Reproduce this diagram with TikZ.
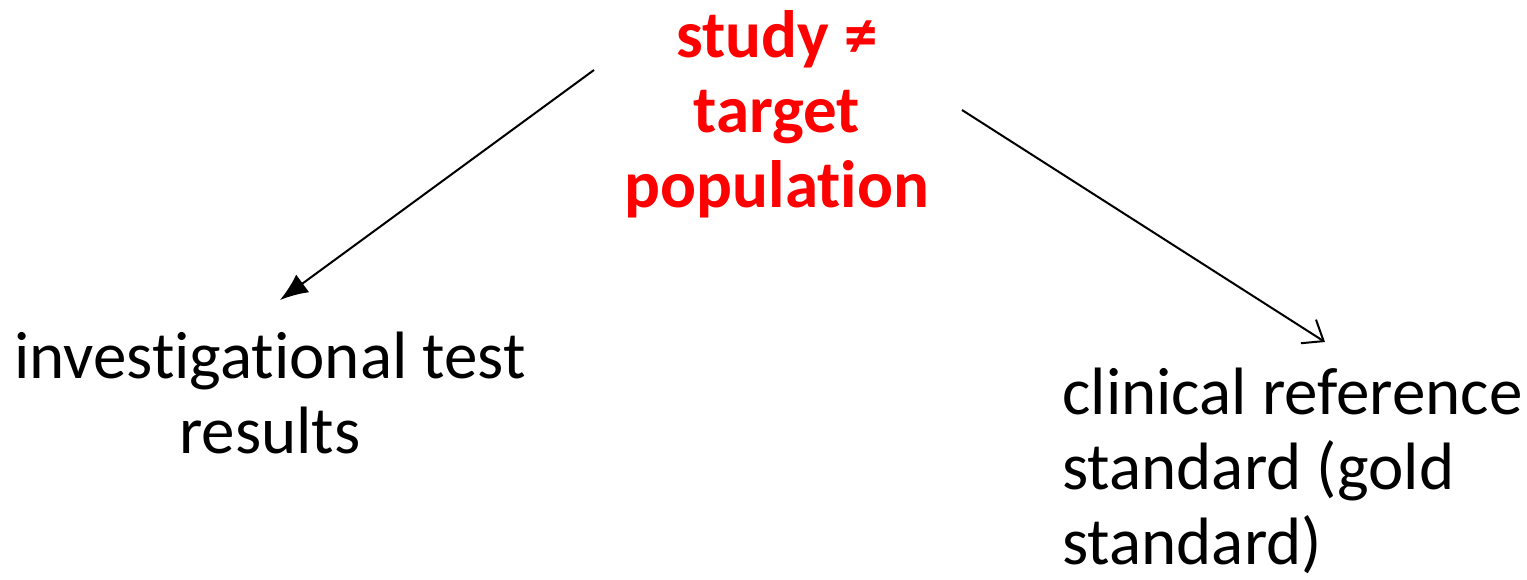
\documentclass[tikz,border=0pt]{standalone}
\usepackage{fontspec}
\setmainfont[Ligatures=NoCommon]{Carlito}
\usetikzlibrary{arrows.meta}
\begin{document}
\begin{tikzpicture}[x=0.5pt,y=-0.5pt,
    main/.style = {inner sep=0pt, font=\fontsize{33.5}{37.5}\selectfont},
    hub/.style = {main, align=center, text=red, font=\fontsize{33.5}{37.5}\selectfont\bfseries}]
    \useasboundingbox (0,0) rectangle (1527,579);
    \node[hub] (pop) at (777,114) {study ≠\\target\\population};
    \node[main, align=center] (test) at (270,393) {investigational test\\results};
    \node[main, align=left, anchor=west] (gold) at (1062,471) {clinical reference\\standard (gold\\standard)};
    \coordinate (a1) at (594,70);
    \coordinate (a2) at (280,300);
    \coordinate (b1) at (962,110);
    \coordinate (b2) at (1325,342);
    \draw[-{Latex[length=14pt,width=11pt]}, line width=1pt] (a1) -- (a2);
    \draw[-{Straight Barb[length=9pt,width=14pt]}, line width=1pt] (b1) -- (b2);
    %\draw (pop) -- (test);
    %\draw (pop) -- (gold);
\end{tikzpicture}
\end{document}
